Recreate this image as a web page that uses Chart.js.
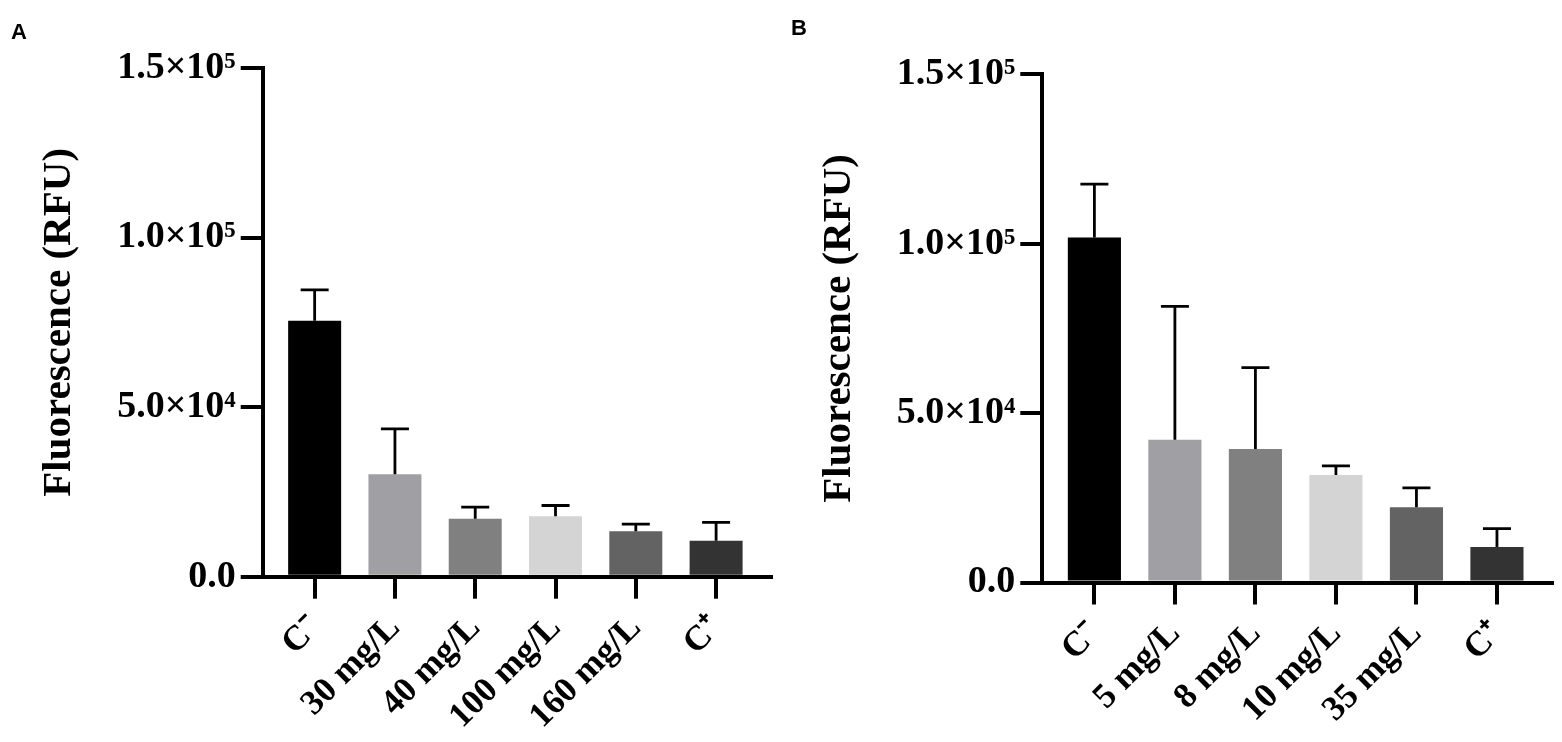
<!DOCTYPE html>
<html>
<head>
<meta charset="utf-8">
<script src="https://cdn.jsdelivr.net/npm/chart.js@4.4.1/dist/chart.umd.min.js"></script>
<style>
  html, body { margin: 0; padding: 0; background: #fff; }
  #wrap { position: relative; width: 1562px; height: 742px; overflow: hidden; }
  .panel { position: absolute; top: 0; width: 781px; height: 742px; }
  .tag { position: absolute; font: bold 22px "Liberation Sans", Arial, sans-serif; color: #000; line-height: 24px; }
</style>
</head>
<body>
<div id="wrap">
  <div class="panel" style="left:0"><canvas id="chartA" width="781" height="742"></canvas></div>
  <div class="panel" style="left:781px"><canvas id="chartB" width="781" height="742"></canvas></div>
  <div class="tag" style="left:11px;top:20px">A</div>
  <div class="tag" style="left:791px;top:16px">B</div>
</div>
<script>
// panel A
const categoriesA = ['C\u207B', '30 mg/L', '40 mg/L', '100 mg/L', '160 mg/L', 'C\u207A'];
const meansA = [75500, 30200, 17100, 17800, 13400, 10600];
const errorsA = [9100, 13400, 3400, 3200, 2100, 5400];

// panel B
const categoriesB = ['C\u207B', '5 mg/L', '8 mg/L', '10 mg/L', '35 mg/L', 'C\u207A'];
const meansB = [101800, 42100, 39400, 31700, 22200, 10500];
const errorsB = [15800, 39400, 24000, 2700, 5700, 5400];

const barColors = ['#000000', '#a0a0a4', '#808080', '#d4d4d4', '#636363', '#333333'];
const yTickValues = [0, 50000, 100000, 150000];
const yTickLabels = ['0.0', '5.0\u00D710\u2074', '1.0\u00D710\u2075', '1.5\u00D710\u2075'];
const yTitle = 'Fluorescence (RFU)';

const serif = '"Liberation Serif", "Times New Roman", serif';

// upward-only SD bars, placed with the chart's own scales
const errorBars = {
    id: 'errorBars',
    afterDatasetsDraw(chart) {
        const ds = chart.data.datasets[0];
        const meta = chart.getDatasetMeta(0);
        const yScale = chart.scales.y;
        const ctx = chart.ctx;
        ctx.save();
        ctx.strokeStyle = '#000';
        ctx.lineWidth = 2.8;
        meta.data.forEach(function (bar, i) {
            const yBase = yScale.getPixelForValue(ds.data[i].y);
            const yTop = yScale.getPixelForValue(ds.data[i].y + ds.errors[i]);
            ctx.beginPath();
            ctx.moveTo(bar.x, yBase);
            ctx.lineTo(bar.x, yTop);
            ctx.moveTo(bar.x - 14, yTop);
            ctx.lineTo(bar.x + 14, yTop);
            ctx.stroke();
        });
        ctx.restore();
    }
};

function makeChart(id, cats, means, errs, geo) {
    const ctx = document.getElementById(id);
    return new Chart(ctx, {
        type: 'bar',
        data: {
            datasets: [{
                data: means.map(function (m, i) { return { x: i, y: m }; }),
                errors: errs,
                backgroundColor: barColors,
                borderWidth: 0,
                categoryPercentage: 1,
                barPercentage: 0.66
            }]
        },
        options: {
            responsive: false,
            animation: false,
            devicePixelRatio: 1,
            layout: {
                padding: { left: geo.padLeft, top: geo.top, right: geo.padRight, bottom: 0 }
            },
            plugins: {
                legend: { display: false },
                tooltip: { enabled: false }
            },
            scales: {
                x: {
                    type: 'linear',
                    min: -0.647,
                    max: 5.68,
                    offset: false,
                    z: 1,
                    afterBuildTicks: function (s) {
                        s.ticks = cats.map(function (c, i) { return { value: i }; });
                    },
                    afterFit: function (s) { s.height = 742 - geo.bottom; },
                    ticks: {
                        color: '#000',
                        font: { family: serif, size: 35, weight: 'bold' },
                        minRotation: 45,
                        maxRotation: 45,
                        autoSkip: false,
                        padding: 9,
                        callback: function (v) { return cats[v]; }
                    },
                    grid: {
                        display: true,
                        drawOnChartArea: false,
                        drawTicks: true,
                        tickLength: 22,
                        lineWidth: 4,
                        color: '#000',
                        offset: false
                    },
                    border: { display: true, width: 4, color: '#000' }
                },
                y: {
                    min: 0,
                    max: 150000,
                    afterBuildTicks: function (s) {
                        s.ticks = yTickValues.map(function (v) { return { value: v }; });
                    },
                    afterFit: function (s) { s.width = geo.axisX - geo.padLeft; },
                    ticks: {
                        color: '#000',
                        font: { family: serif, size: 38, weight: 'bold' },
                        padding: 5,
                        callback: function (v) { return yTickLabels[yTickValues.indexOf(v)]; }
                    },
                    grid: {
                        display: true,
                        drawOnChartArea: false,
                        drawTicks: true,
                        tickLength: 22,
                        lineWidth: 4,
                        color: '#000'
                    },
                    border: { display: true, width: 4, color: '#000' },
                    title: {
                        display: true,
                        text: yTitle,
                        color: '#000',
                        padding: 0,
                        font: { family: serif, size: 41, weight: 'bold' }
                    }
                }
            }
        },
        plugins: [errorBars]
    });
}

makeChart('chartA', categoriesA, meansA, errorsA,
    { padLeft: 35, axisX: 262.7, top: 68, bottom: 576.7, padRight: 10.3 });
makeChart('chartB', categoriesB, meansB, errorsB,
    { padLeft: 33.4, axisX: 261.3, top: 74.3, bottom: 582.5, padRight: 10.3 });
</script>
</body>
</html>
